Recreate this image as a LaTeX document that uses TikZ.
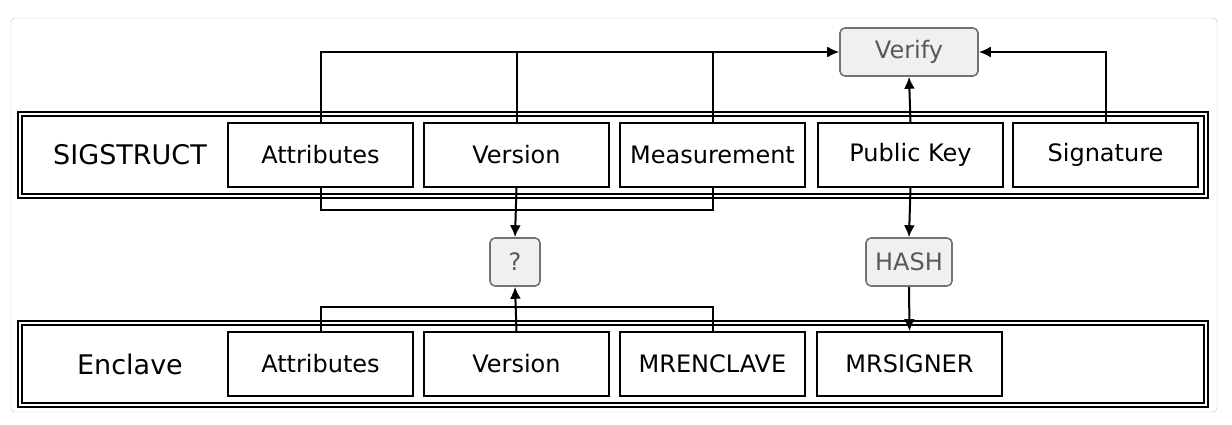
\documentclass[tikz,border=0pt]{standalone}
\usepackage{fontspec}
\setmainfont{DejaVu Sans}
\usetikzlibrary{arrows.meta}

\begin{document}
\begin{tikzpicture}[x=1pt, y=-1pt,
  field/.style={draw, line width=1.8pt, minimum width=185pt, minimum height=64pt, inner sep=0pt, font=\fontsize{24}{28}\selectfont},
  row/.style={draw, line width=1.5pt, double, double distance=2.5pt, minimum width=1186pt, minimum height=82pt, inner sep=0pt},
  rowname/.style={font=\fontsize{27}{32}\selectfont},
  op/.style={draw=black!55, line width=1.6pt, fill=black!6, rounded corners=5pt, text=black!65, minimum height=48pt, inner sep=0pt, font=\fontsize{24}{28}\selectfont},
  link/.style={line width=2pt},
  arr/.style={link, -{Latex[length=12pt,width=11pt]}}]
\useasboundingbox (0,0) rectangle (1232,425);
\draw [black!25, rounded corners=4pt] (11,18) rectangle (1217,412);
% SIGSTRUCT
\node [row] (sig) at (613,155) {};
\node [rowname] (signame) at (130,155) {SIGSTRUCT};
\foreach \name/\txt/\x in {sattr/Attributes/320.5, sver/Version/516.5, smeas/Measurement/712.5, spub/Public Key/910.5, ssig/Signature/1105.5}
  \node [field] (\name) at (\x,155) {\txt};
% Enclave
\node [row] (encl) at (613,364) {};
\node [rowname] (enclname) at (130,364) {Enclave};
\foreach \name/\txt/\x in {eattr/Attributes/320.5, ever/Version/516.5, emre/MRENCLAVE/712.5, esig/MRSIGNER/909.5}
  \node [field] (\name) at (\x,364) {\txt};
% operations
\node [op, minimum width=138pt] (verify) at (909,52) {Verify};
\node [op, minimum width=50pt] (quest) at (515,262) {?};
\node [op, minimum width=86pt] (hash) at (909,262) {HASH};
\coordinate (sbus) at (0,210);
\coordinate (ebus) at (0,307);
% connectors
\draw [arr] (sattr.north) |- (verify.west);
\draw [link] (sver.north) -- (sver.north |- verify.west);
\draw [link] (smeas.north) -- (smeas.north |- verify.west);
\draw [arr] (ssig.north) |- (verify.east);
\draw [arr] (spub.north) -- (verify.south);
\draw [link] (sattr.south) -- (sattr.south |- sbus) -- (smeas.south |- sbus) -- (smeas.south);
\draw [arr] (sver.south) -- (quest.north);
\draw [arr] (spub.south) -- (hash.north);
\draw [link] (eattr.north) -- (eattr.north |- ebus) -- (emre.north |- ebus) -- (emre.north);
\draw [arr] (ever.north) -- (quest.south);
\draw [arr] (hash.south) -- (esig.north);
\end{tikzpicture}
\end{document}
